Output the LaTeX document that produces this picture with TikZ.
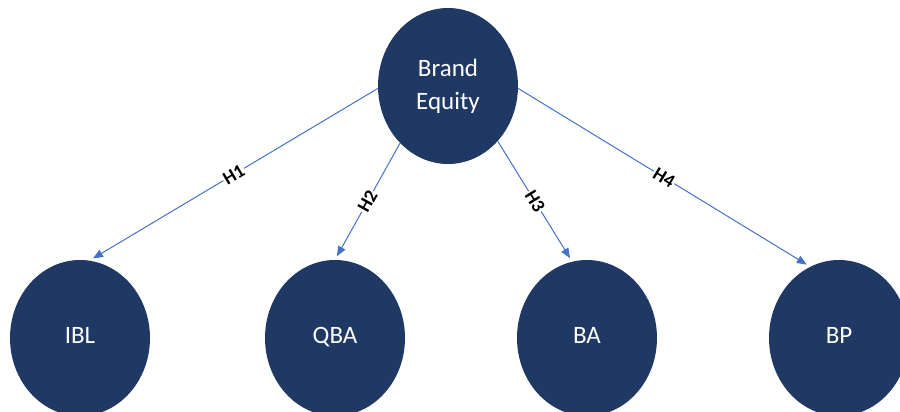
\documentclass[tikz,border=0pt]{standalone}
\usepackage{fontspec}
\setmainfont{Carlito}
\usetikzlibrary{shapes.geometric,arrows.meta}
\definecolor{navy}{HTML}{1F3864}
\definecolor{linkblue}{HTML}{4472C4}
\begin{document}
\begin{tikzpicture}[x=1pt,y=1pt,
  bubble/.style={ellipse,fill=navy,draw=none,minimum width=140pt,minimum height=156pt,inner sep=0pt,
    text=white,align=center,font=\fontsize{25}{33}\selectfont},
  leaf/.style={bubble,text height=16pt,text depth=5pt},
  link/.style={draw=linkblue,line width=1pt,-{Triangle[length=10pt,width=8pt]},shorten >=4pt},
  hlabel/.style={midway,sloped,fill=white,inner sep=1pt,text=black,font=\fontsize{19}{20}\selectfont\bfseries}]
\useasboundingbox (0,0) rectangle (900,412);
\clip (0,0) rectangle (900,412);
\node[bubble] (be) at (448,326) {Brand\\Equity};
\node[leaf] (ibl) at (80,74) {IBL};
\node[leaf] (qba) at (335,74) {QBA};
\node[leaf] (ba) at (587,74) {BA};
\node[leaf] (bp) at (839,74) {BP};
\draw[link] (be.182) -- (ibl.83) node[hlabel] {H1};
\draw[link] (be.230) -- (qba.90) node[hlabel] {H2};
\draw[link] (be.312) -- (ba.101) node[hlabel] {H3};
\draw[link] (be.358) -- (bp.112) node[hlabel] {H4};
\end{tikzpicture}
\end{document}
